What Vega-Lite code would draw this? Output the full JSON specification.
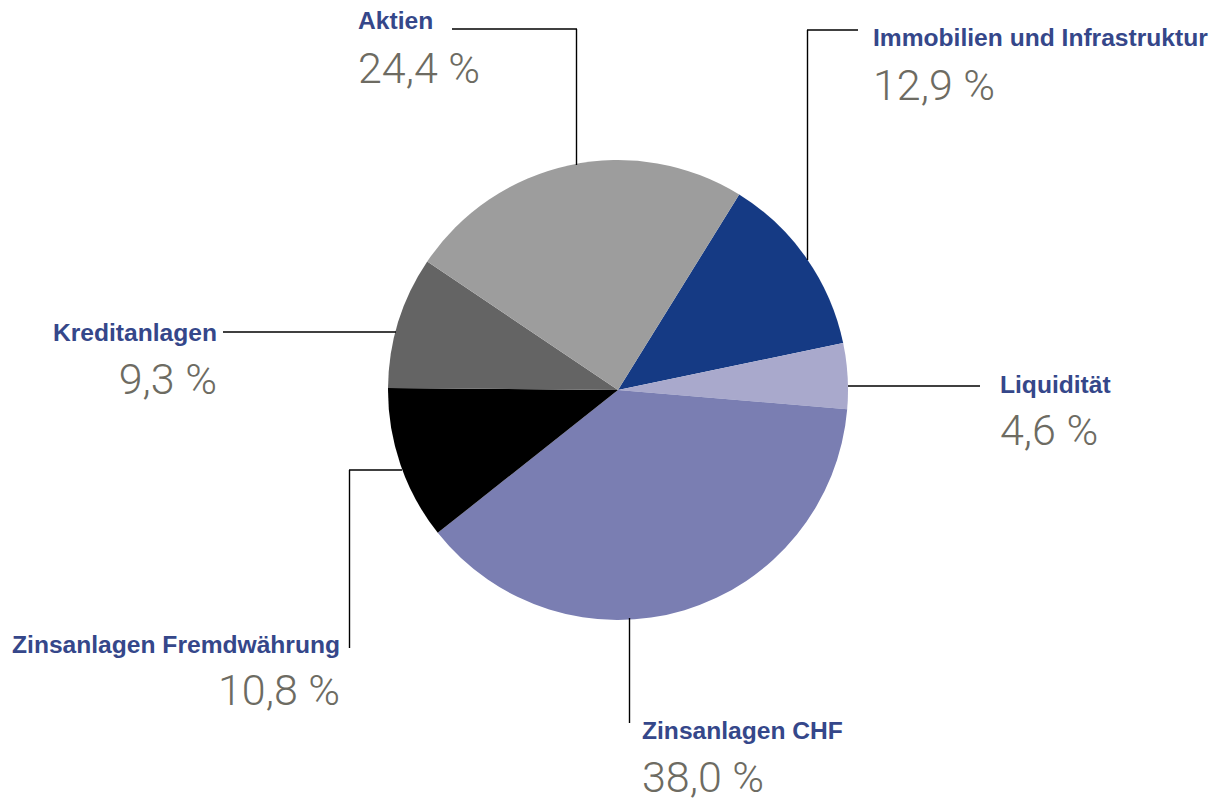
{
  "$schema": "https://vega.github.io/schema/vega-lite/v6.json",
  "width": 1224,
  "height": 801,
  "autosize": {"type": "fit", "contains": "padding"},
  "padding": 0,
  "background": "white",
  "config": {"view": {"stroke": null}},
  "datasets": {
    "anteile": [
      {"kategorie": "Immobilien und Infrastruktur", "anteil": 12.9, "reihenfolge": 1},
      {"kategorie": "Liquidität", "anteil": 4.6, "reihenfolge": 2},
      {"kategorie": "Zinsanlagen CHF", "anteil": 38.0, "reihenfolge": 3},
      {"kategorie": "Zinsanlagen Fremdwährung", "anteil": 10.8, "reihenfolge": 4},
      {"kategorie": "Kreditanlagen", "anteil": 9.3, "reihenfolge": 5},
      {"kategorie": "Aktien", "anteil": 24.4, "reihenfolge": 6}
    ],
    "beschriftungen": [
      {"kategorie": "Aktien", "wert": "24,4 %", "x": 358, "y_titel": 29, "y_wert": 83, "seite": "links"},
      {"kategorie": "Immobilien und Infrastruktur", "wert": "12,9 %", "x": 873, "y_titel": 46, "y_wert": 100, "seite": "links"},
      {"kategorie": "Liquidität", "wert": "4,6 %", "x": 1000, "y_titel": 393, "y_wert": 445, "seite": "links"},
      {"kategorie": "Zinsanlagen CHF", "wert": "38,0 %", "x": 642, "y_titel": 739, "y_wert": 792, "seite": "links"},
      {"kategorie": "Kreditanlagen", "wert": "9,3 %", "x": 217, "y_titel": 341, "y_wert": 394, "seite": "rechts"},
      {"kategorie": "Zinsanlagen Fremdwährung", "wert": "10,8 %", "x": 340, "y_titel": 653, "y_wert": 705, "seite": "rechts"}
    ],
    "linien": [
      {"x": 452, "y": 29, "x2": 577, "y2": 29},
      {"x": 576.5, "y": 29, "x2": 576.5, "y2": 165},
      {"x": 807, "y": 30, "x2": 858, "y2": 30},
      {"x": 807.5, "y": 30, "x2": 807.5, "y2": 260},
      {"x": 848, "y": 386, "x2": 980, "y2": 386},
      {"x": 223, "y": 332, "x2": 396, "y2": 332},
      {"x": 349.5, "y": 470, "x2": 349.5, "y2": 648},
      {"x": 349, "y": 470, "x2": 402, "y2": 470},
      {"x": 629.5, "y": 618, "x2": 629.5, "y2": 723}
    ]
  },
  "layer": [
    {
      "data": {"name": "anteile"},
      "mark": {"type": "arc", "outerRadius": 230},
      "encoding": {
        "x": {"datum": 618, "type": "quantitative", "scale": {"domain": [0, 1224], "nice": false, "zero": false}, "axis": null},
        "y": {"datum": 390, "type": "quantitative", "scale": {"domain": [0, 801], "nice": false, "zero": false, "reverse": true}, "axis": null},
        "theta": {"field": "anteil", "type": "quantitative", "stack": true, "scale": {"range": [0.555, 6.8382]}},
        "order": {"field": "reihenfolge", "type": "quantitative"},
        "color": {
          "field": "kategorie",
          "type": "nominal",
          "legend": null,
          "scale": {
            "domain": ["Immobilien und Infrastruktur", "Liquidität", "Zinsanlagen CHF", "Zinsanlagen Fremdwährung", "Kreditanlagen", "Aktien"],
            "range": ["#153a84", "#a9a9cc", "#7a7eb2", "#000000", "#646464", "#9d9d9d"]
          }
        }
      }
    },
    {
      "data": {"name": "linien"},
      "mark": {"type": "rule", "color": "#000000", "strokeWidth": 1.4},
      "encoding": {
        "x": {"field": "x", "type": "quantitative", "scale": {"domain": [0, 1224], "nice": false, "zero": false}, "axis": null},
        "y": {"field": "y", "type": "quantitative", "scale": {"domain": [0, 801], "nice": false, "zero": false, "reverse": true}, "axis": null},
        "x2": {"field": "x2"},
        "y2": {"field": "y2"}
      }
    },
    {
      "data": {"name": "beschriftungen"},
      "transform": [{"filter": "datum.seite === 'links'"}],
      "mark": {"type": "text", "align": "left", "baseline": "alphabetic", "font": "Liberation Sans", "fontWeight": "bold", "fontSize": 24.6, "color": "#35478a"},
      "encoding": {
        "x": {"field": "x", "type": "quantitative", "scale": {"domain": [0, 1224], "nice": false, "zero": false}, "axis": null},
        "y": {"field": "y_titel", "type": "quantitative", "scale": {"domain": [0, 801], "nice": false, "zero": false, "reverse": true}, "axis": null},
        "text": {"field": "kategorie"}
      }
    },
    {
      "data": {"name": "beschriftungen"},
      "transform": [{"filter": "datum.seite === 'rechts'"}],
      "mark": {"type": "text", "align": "right", "baseline": "alphabetic", "font": "Liberation Sans", "fontWeight": "bold", "fontSize": 24.6, "color": "#35478a"},
      "encoding": {
        "x": {"field": "x", "type": "quantitative", "scale": {"domain": [0, 1224], "nice": false, "zero": false}, "axis": null},
        "y": {"field": "y_titel", "type": "quantitative", "scale": {"domain": [0, 801], "nice": false, "zero": false, "reverse": true}, "axis": null},
        "text": {"field": "kategorie"}
      }
    },
    {
      "data": {"name": "beschriftungen"},
      "transform": [{"filter": "datum.seite === 'links'"}],
      "mark": {"type": "text", "align": "left", "baseline": "alphabetic", "font": "Roboto", "fontWeight": 300, "fontSize": 43, "color": "#6d6b62"},
      "encoding": {
        "x": {"field": "x", "type": "quantitative", "scale": {"domain": [0, 1224], "nice": false, "zero": false}, "axis": null},
        "y": {"field": "y_wert", "type": "quantitative", "scale": {"domain": [0, 801], "nice": false, "zero": false, "reverse": true}, "axis": null},
        "text": {"field": "wert"}
      }
    },
    {
      "data": {"name": "beschriftungen"},
      "transform": [{"filter": "datum.seite === 'rechts'"}],
      "mark": {"type": "text", "align": "right", "baseline": "alphabetic", "font": "Roboto", "fontWeight": 300, "fontSize": 43, "color": "#6d6b62"},
      "encoding": {
        "x": {"field": "x", "type": "quantitative", "scale": {"domain": [0, 1224], "nice": false, "zero": false}, "axis": null},
        "y": {"field": "y_wert", "type": "quantitative", "scale": {"domain": [0, 801], "nice": false, "zero": false, "reverse": true}, "axis": null},
        "text": {"field": "wert"}
      }
    }
  ]
}
